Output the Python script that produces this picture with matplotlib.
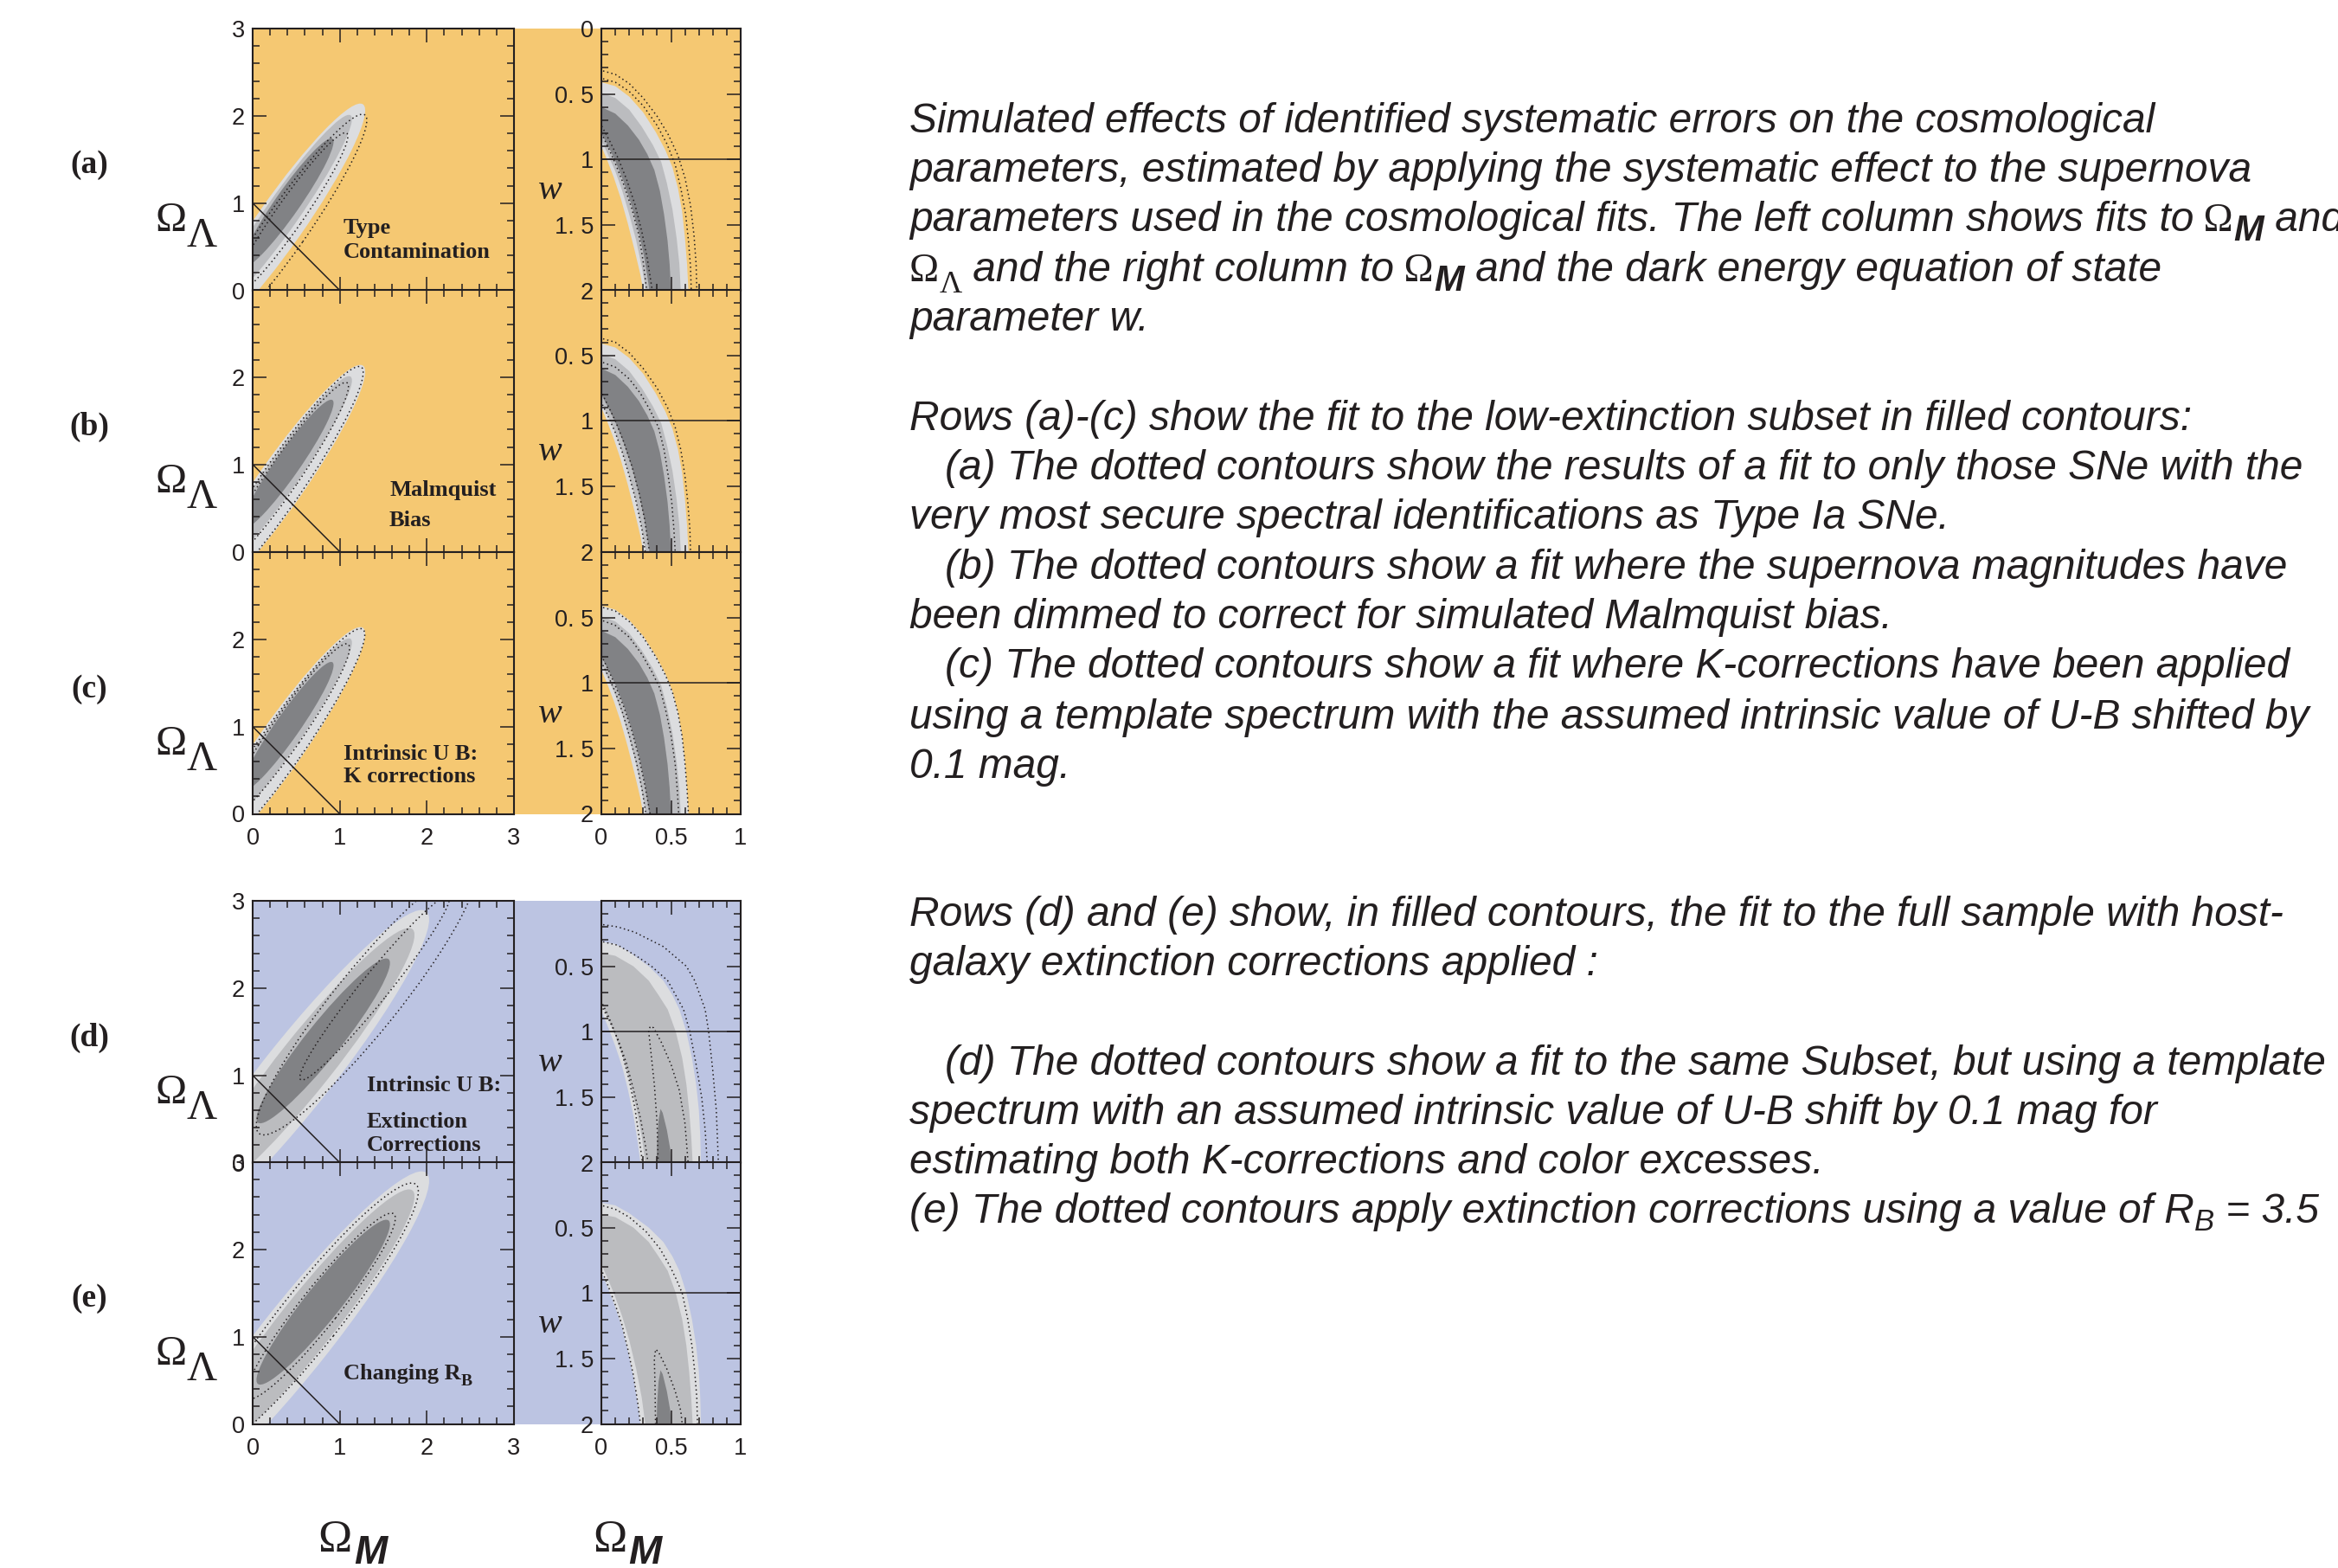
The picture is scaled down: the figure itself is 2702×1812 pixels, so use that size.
import matplotlib
matplotlib.use("Agg")
import matplotlib.pyplot as plt
from matplotlib.patches import Ellipse, Polygon, Rectangle
from matplotlib.ticker import MultipleLocator

W, H = 2702, 1812
plt.rcParams["font.family"] = ["Liberation Sans", "DejaVu Sans"]

INK = "#231F20"
ORANGE = "#F5C872"
BLUE = "#BCC4E2"
SHADES = ["#DCDDDF", "#BBBCBF", "#818285"]   # 95%, 90%, 68% fills

# ---- panel geometry (pixels) ----
LEFT_X = (292, 594)
RIGHT_X = (695, 856)
PANEL_H = 302.5
ROW_TOPS = [33, 335, 638, 1041, 1343]
ROW_TAGS = ["(a)", "(b)", "(c)", "(d)", "(e)"]
ROW_BG = [ORANGE, ORANGE, ORANGE, BLUE, BLUE]

# ---- axis ticks ----
OM_TICKS_LEFT = [0, 1, 2, 3]
OL_TICKS = [0, 1, 2, 3]
OM_TICKS_RIGHT = [0, 0.5, 1]
W_TICKS = [0, 0.5, 1, 1.5, 2]
OL_LABELS = [["0", "1", "2", "3"], ["0", "1", "2", ""], ["0", "1", "2", ""],
             ["0", "1", "2", "3"], ["0", "1", "2", "3"]]
W_LABELS = [["0", "0. 5", "1", "1. 5", "2"]] + [["", "0. 5", "1", "1. 5", "2"]] * 4
SHOW_X_LABELS = [False, False, True, False, True]

# flat universe line and cosmological-constant line
FLAT_OM = [0, 1]
FLAT_OL = [1, 0]
W_LAMBDA = 1.0

# ---- Omega_M / Omega_Lambda confidence regions: (cx, cy, semi-major, semi-minor, angle) ----
LOW_OL_FILLED = [(0.32, 0.78, 1.65, 0.27, 55), (0.35, 0.90, 1.35, 0.19, 55),
                 (0.40, 1.00, 0.90, 0.14, 55)]
FULL_OL_FILLED = [(0.50, 1.00, 2.40, 0.40, 51.5), (0.62, 1.15, 1.95, 0.31, 51.5),
                  (0.81, 1.395, 1.20, 0.20, 51.3)]
DOTTED_OL_A = [(0.37, 0.70, 1.60, 0.25, 55), (0.42, 0.86, 1.15, 0.16, 55)]
DOTTED_OL_B = [(0.33, 0.78, 1.62, 0.245, 55.5), (0.36, 0.88, 1.28, 0.18, 55.5)]
DOTTED_OL_C = [(0.33, 0.78, 1.63, 0.25, 55), (0.38, 0.92, 1.25, 0.185, 55)]
DOTTED_OL_D = [(1.30, 1.85, 1.95, 0.36, 51), (1.40, 2.00, 1.35, 0.16, 51)]
DOTTED_OL_E = [(0.66, 1.22, 1.95, 0.34, 51.5), (0.78, 1.35, 1.35, 0.22, 51.5)]

# ---- Omega_M / w confidence bands: outer and inner edges as (Omega_M, w) ----
LOW_LIGHT_OUT = [(0, 0.41), (0.10, 0.44), (0.20, 0.52), (0.30, 0.64), (0.39, 0.79), (0.46, 0.93),
                 (0.51, 1.06), (0.55, 1.22), (0.58, 1.40), (0.60, 1.60), (0.615, 1.80), (0.625, 2.0)]
LOW_LIGHT_IN = [(0, 0.90), (0.04, 1.00), (0.09, 1.14), (0.14, 1.30), (0.19, 1.49), (0.24, 1.70),
                (0.28, 1.88), (0.30, 2.0)]
LOW_MID_OUT = [(0, 0.49), (0.10, 0.53), (0.20, 0.62), (0.29, 0.75), (0.37, 0.89), (0.43, 1.02),
               (0.47, 1.18), (0.51, 1.38), (0.54, 1.60), (0.56, 1.80), (0.57, 2.0)]
LOW_MID_IN = [(0, 0.85), (0.05, 0.97), (0.10, 1.09), (0.15, 1.24), (0.20, 1.42), (0.25, 1.62),
              (0.29, 1.82), (0.32, 2.0)]
LOW_DARK_OUT = [(0, 0.60), (0.10, 0.65), (0.19, 0.74), (0.27, 0.85), (0.33, 0.96), (0.38, 1.08),
                (0.42, 1.24), (0.45, 1.42), (0.475, 1.62), (0.49, 1.80), (0.50, 2.0)]
LOW_DARK_IN = [(0, 0.80), (0.05, 0.90), (0.10, 1.01), (0.16, 1.17), (0.22, 1.36), (0.27, 1.56),
               (0.31, 1.76), (0.345, 2.0)]

FULL_LIGHT_OUT = [(0, 0.31), (0.10, 0.33), (0.20, 0.39), (0.34, 0.50), (0.445, 0.61), (0.51, 0.72),
                  (0.56, 0.83), (0.61, 1.0), (0.65, 1.2), (0.68, 1.4), (0.70, 1.6), (0.71, 1.8), (0.715, 2.0)]
FULL_LIGHT_IN = [(0, 0.84), (0.05, 0.97), (0.10, 1.11), (0.15, 1.27), (0.19, 1.44), (0.23, 1.64),
                 (0.26, 1.84), (0.28, 2.0)]
FULL_MID_OUT = [(0, 0.40), (0.10, 0.42), (0.23, 0.50), (0.34, 0.61), (0.41, 0.72), (0.476, 0.83),
                (0.534, 1.0), (0.58, 1.2), (0.61, 1.4), (0.63, 1.6), (0.645, 1.8), (0.655, 2.0)]
FULL_MID_IN = [(0, 0.78), (0.05, 0.90), (0.10, 1.03), (0.15, 1.18), (0.20, 1.36), (0.25, 1.58),
               (0.29, 1.80), (0.315, 2.0)]
FULL_DARK = [(0.395, 2.1), (0.40, 1.85), (0.41, 1.68), (0.425, 1.59), (0.44, 1.62), (0.47, 1.75),
             (0.495, 1.9), (0.51, 2.1)]

DOT_A1_OUT = [(0, 0.32), (0.10, 0.35), (0.20, 0.42), (0.30, 0.53), (0.40, 0.67), (0.48, 0.81),
              (0.55, 0.97), (0.60, 1.14), (0.64, 1.35), (0.665, 1.58), (0.68, 1.80), (0.685, 2.0)]
DOT_A1_IN = [(0, 0.80), (0.05, 0.91), (0.10, 1.03), (0.16, 1.19), (0.22, 1.38), (0.27, 1.58),
             (0.30, 1.78), (0.325, 2.0)]
DOT_A2_OUT = [(0, 0.38), (0.10, 0.41), (0.20, 0.48), (0.30, 0.59), (0.40, 0.74), (0.47, 0.88),
              (0.53, 1.04), (0.57, 1.22), (0.605, 1.42), (0.625, 1.62), (0.64, 1.82), (0.645, 2.0)]
DOT_A2_IN = [(0, 0.74), (0.06, 0.86), (0.12, 0.99), (0.18, 1.15), (0.24, 1.34), (0.29, 1.55),
             (0.33, 1.76), (0.365, 2.0)]

DOT_B1_OUT = [(0, 0.37), (0.10, 0.40), (0.20, 0.48), (0.30, 0.60), (0.40, 0.75), (0.48, 0.91),
              (0.53, 1.05), (0.57, 1.22), (0.60, 1.42), (0.62, 1.62), (0.635, 1.82), (0.64, 2.0)]
DOT_B1_IN = [(0, 0.86), (0.05, 0.97), (0.10, 1.09), (0.15, 1.24), (0.20, 1.42), (0.25, 1.62),
             (0.29, 1.82), (0.315, 2.0)]
DOT_B2_OUT = [(0, 0.55), (0.10, 0.59), (0.20, 0.68), (0.28, 0.79), (0.35, 0.92), (0.41, 1.05),
              (0.45, 1.22), (0.48, 1.42), (0.505, 1.62), (0.52, 1.82), (0.53, 2.0)]
DOT_B2_IN = [(0, 0.78), (0.05, 0.89), (0.10, 1.00), (0.16, 1.16), (0.22, 1.35), (0.27, 1.55),
             (0.31, 1.75), (0.345, 2.0)]

DOT_C1_OUT = [(0, 0.42), (0.10, 0.45), (0.20, 0.53), (0.30, 0.65), (0.39, 0.80), (0.46, 0.94),
              (0.51, 1.07), (0.55, 1.23), (0.58, 1.41), (0.60, 1.61), (0.615, 1.81), (0.625, 2.0)]
DOT_C1_IN = [(0, 0.84), (0.05, 0.95), (0.10, 1.07), (0.15, 1.22), (0.20, 1.40), (0.25, 1.60),
             (0.29, 1.80), (0.32, 2.0)]
DOT_C2_OUT = [(0, 0.52), (0.10, 0.56), (0.20, 0.65), (0.29, 0.78), (0.36, 0.91), (0.42, 1.04),
              (0.46, 1.20), (0.50, 1.40), (0.53, 1.62), (0.545, 1.82), (0.555, 2.0)]
DOT_C2_IN = [(0, 0.79), (0.05, 0.90), (0.10, 1.02), (0.16, 1.18), (0.22, 1.37), (0.27, 1.57),
             (0.31, 1.77), (0.35, 2.0)]

DOT_D1_OUT = [(0, 0.18), (0.12, 0.20), (0.24, 0.24), (0.445, 0.35), (0.61, 0.50), (0.67, 0.61),
              (0.745, 0.83), (0.77, 1.0), (0.80, 1.3), (0.825, 1.6), (0.84, 2.0)]
DOT_D1_IN = [(0, 0.77), (0.05, 0.88), (0.10, 1.01), (0.15, 1.17), (0.20, 1.37), (0.24, 1.58),
             (0.27, 1.80), (0.295, 2.0)]
DOT_D2_OUT = [(0, 0.31), (0.12, 0.34), (0.25, 0.42), (0.36, 0.50), (0.476, 0.61), (0.59, 0.83),
              (0.635, 1.0), (0.68, 1.25), (0.72, 1.5), (0.745, 1.75), (0.76, 2.0)]
DOT_D2_IN = [(0, 0.80), (0.06, 0.92), (0.12, 1.06), (0.18, 1.24), (0.23, 1.44), (0.28, 1.66),
             (0.315, 1.86), (0.335, 2.0)]
DOT_D3 = [(0.41, 2.1), (0.40, 1.7), (0.38, 1.4), (0.355, 1.15), (0.34, 1.0), (0.35, 0.96),
          (0.375, 0.97), (0.43, 1.08), (0.50, 1.25), (0.56, 1.45), (0.60, 1.7), (0.63, 2.1)]

DOT_E1_OUT = [(0, 0.33), (0.10, 0.36), (0.20, 0.42), (0.32, 0.53), (0.42, 0.66), (0.49, 0.79),
              (0.54, 0.90), (0.58, 1.0), (0.62, 1.2), (0.65, 1.4), (0.67, 1.6), (0.685, 1.8), (0.69, 2.0)]
DOT_E1_IN = [(0, 0.82), (0.05, 0.95), (0.10, 1.09), (0.15, 1.25), (0.19, 1.43), (0.23, 1.63),
             (0.26, 1.83), (0.28, 2.0)]
DOT_E2 = [(0.39, 2.1), (0.385, 1.7), (0.38, 1.5), (0.39, 1.43), (0.41, 1.45), (0.47, 1.58),
          (0.53, 1.75), (0.57, 1.9), (0.59, 2.1)]

# ---- in-panel captions: (text, Omega_M, Omega_Lambda) ----
TAG_A = [("Type", 1.04, 0.71), ("Contamination", 1.04, 0.44)]
TAG_B = [("Malmquist", 1.57, 0.70), ("Bias", 1.57, 0.36)]
TAG_C = [("Intrinsic U B:", 1.04, 0.68), ("K corrections", 1.04, 0.43)]
TAG_D = [("Intrinsic U B:", 1.31, 0.88), ("Extinction", 1.31, 0.47), ("Corrections", 1.31, 0.20)]
TAG_E = [("Changing R", 1.04, 0.575)]

# ---- caption text at the right: (x, baseline y, runs) ----
CAPTION = [
    (1051, 153, [("Simulated effects of identified systematic errors on the cosmological", "body", 0)]),
    (1051, 210, [("parameters, estimated by applying the systematic effect to the supernova", "body", 0)]),
    (1051, 267, [("parameters used in the cosmological fits. The left column shows fits to", "body", 0),
                 (" Ω", "omega", 0), ("M", "subm", 11), (" and", "body", 0)]),
    (1051, 325, [("Ω", "omega", 0), ("Λ", "subl", 13), (" and the right column to", "body", 0),
                 (" Ω", "omega", 0), ("M", "subm", 11),
                 (" and the dark energy equation of state", "body", 0)]),
    (1051, 382, [("parameter w.", "body", 0)]),
    (1051, 497, [("Rows (a)-(c) show the fit to the low-extinction subset in filled contours:", "body", 0)]),
    (1092, 554, [("(a) The dotted contours show the results of a fit to only those SNe with the", "body", 0)]),
    (1051, 611, [("very most secure spectral identifications as Type Ia SNe.", "body", 0)]),
    (1092, 669, [("(b) The dotted contours show a fit where the supernova magnitudes have", "body", 0)]),
    (1051, 726, [("been dimmed to correct for simulated Malmquist bias.", "body", 0)]),
    (1092, 783, [("(c) The dotted contours show a fit where K-corrections have been applied", "body", 0)]),
    (1051, 842, [("using a template spectrum with the assumed intrinsic value of U-B shifted by", "body", 0)]),
    (1051, 899, [("0.1 mag.", "body", 0)]),
    (1051, 1070, [("Rows (d) and (e) show, in filled contours, the fit to the full sample with host-", "body", 0)]),
    (1051, 1127, [("galaxy extinction corrections applied :", "body", 0)]),
    (1092, 1242, [("(d) The dotted contours show a fit to the same Subset, but using a template", "body", 0)]),
    (1051, 1299, [("spectrum with an assumed intrinsic value of U-B shift by 0.1 mag for", "body", 0)]),
    (1051, 1356, [("estimating both K-corrections and color excesses.", "body", 0)]),
    (1051, 1413, [("(e) The dotted contours apply extinction corrections using a value of R", "body", 0),
                  ("B", "subb", 9), (" = 3.5", "body", 0)]),
]

STYLES = {
    "body": dict(family="Liberation Sans", style="italic", size=34.5, color=INK),
    "omega": dict(family="Liberation Serif", size=33, color=INK),
    "subm": dict(family="Liberation Sans", style="italic", weight="bold", size=30, color=INK),
    "subl": dict(family="Liberation Serif", size=26, color=INK),
    "subb": dict(family="Liberation Sans", style="italic", size=25, color=INK),
}

DOT_LS = (0, (1, 2.2))


def px_axes(fig, x0, x1, top):
    return fig.add_axes([x0 / W, 1 - (top + PANEL_H) / H, (x1 - x0) / W, PANEL_H / H])


def style_ticks(ax):
    ax.tick_params(which="both", direction="in", top=True, right=True, color=INK, width=1.1)
    ax.tick_params(which="major", length=11.5)
    ax.tick_params(which="minor", length=5.8)
    ax.tick_params(axis="y", pad=6.5, labelsize=19.5, labelcolor=INK)
    ax.tick_params(axis="x", pad=11, labelsize=19.5, labelcolor=INK)
    for s in ax.spines.values():
        s.set_linewidth(1.5)
        s.set_color(INK)


def band(outer, inner):
    # close a band that runs from the Omega_M = 0 edge down to the w = 2 edge
    return ([(-0.2, outer[0][1])] + list(outer) + [(outer[-1][0], 2.3), (inner[-1][0], 2.3)]
            + list(inner[::-1]) + [(-0.2, inner[0][1])])


fig = plt.figure(figsize=(W / 100, H / 100), dpi=100)

# coloured backing behind each block of panels
for top, bottom, bg in [(ROW_TOPS[0], ROW_TOPS[2] + PANEL_H, ORANGE),
                        (ROW_TOPS[3], ROW_TOPS[4] + PANEL_H, BLUE)]:
    fig.patches.append(Rectangle((LEFT_X[0] / W, 1 - bottom / H), (RIGHT_X[1] - LEFT_X[0]) / W,
                                 (bottom - top) / H, transform=fig.transFigure,
                                 facecolor=bg, edgecolor="none", zorder=-1))

left_filled = [LOW_OL_FILLED] * 3 + [FULL_OL_FILLED] * 2
left_dotted = [DOTTED_OL_A, DOTTED_OL_B, DOTTED_OL_C, DOTTED_OL_D, DOTTED_OL_E]
tags = [TAG_A, TAG_B, TAG_C, TAG_D, TAG_E]

low_bands = [band(LOW_LIGHT_OUT, LOW_LIGHT_IN), band(LOW_MID_OUT, LOW_MID_IN),
             band(LOW_DARK_OUT, LOW_DARK_IN)]
full_bands = [band(FULL_LIGHT_OUT, FULL_LIGHT_IN), band(FULL_MID_OUT, FULL_MID_IN), FULL_DARK]
right_filled = [low_bands] * 3 + [full_bands] * 2
right_dotted = [
    [band(DOT_A1_OUT, DOT_A1_IN), band(DOT_A2_OUT, DOT_A2_IN)],
    [band(DOT_B1_OUT, DOT_B1_IN), band(DOT_B2_OUT, DOT_B2_IN)],
    [band(DOT_C1_OUT, DOT_C1_IN), band(DOT_C2_OUT, DOT_C2_IN)],
    [band(DOT_D1_OUT, DOT_D1_IN), band(DOT_D2_OUT, DOT_D2_IN), DOT_D3],
    [band(DOT_E1_OUT, DOT_E1_IN), DOT_E2],
]

renderer = fig.canvas.get_renderer()

for i, top in enumerate(ROW_TOPS):
    bg = ROW_BG[i]

    # --- Omega_M vs Omega_Lambda ---
    ax = px_axes(fig, LEFT_X[0], LEFT_X[1], top)
    ax.set_facecolor(bg)
    ax.set_xlim(0, 3)
    ax.set_ylim(0, 3)
    for (cx, cy, a, b, ang), col in zip(left_filled[i], SHADES):
        ax.add_patch(Ellipse((cx, cy), 2 * a, 2 * b, angle=ang, facecolor=col, edgecolor="none"))
    for cx, cy, a, b, ang in left_dotted[i]:
        ax.add_patch(Ellipse((cx, cy), 2 * a, 2 * b, angle=ang, fill=False, edgecolor=INK,
                             linewidth=1.1, linestyle=DOT_LS))
    ax.plot(FLAT_OM, FLAT_OL, color=INK, linewidth=1.1)
    ax.set_xticks(OM_TICKS_LEFT, [str(t) for t in OM_TICKS_LEFT] if SHOW_X_LABELS[i] else [""] * 4)
    ax.set_yticks(OL_TICKS, OL_LABELS[i])
    ax.xaxis.set_minor_locator(MultipleLocator(0.2))
    ax.yaxis.set_minor_locator(MultipleLocator(0.2))
    style_ticks(ax)
    for text, x, y in tags[i]:
        t = ax.text(x, y, text, family="Liberation Serif", weight="bold", size=19, color=INK,
                    ha="left", va="center")
    if i == 4:
        # subscript B after "Changing R"
        bb = t.get_window_extent(renderer)
        fig.text(bb.x1 / W, (bb.y0 + 3) / H, "B", family="Liberation Serif", weight="bold",
                 size=14, color=INK, ha="left", va="center")

    # --- Omega_M vs w ---
    axr = px_axes(fig, RIGHT_X[0], RIGHT_X[1], top)
    axr.set_facecolor(bg)
    axr.set_xlim(0, 1)
    axr.set_ylim(2, 0)
    for verts, col in zip(right_filled[i], SHADES):
        axr.add_patch(Polygon(verts, closed=True, facecolor=col, edgecolor="none"))
    for verts in right_dotted[i]:
        axr.add_patch(Polygon(verts, closed=True, fill=False, edgecolor=INK, linewidth=1.1,
                              linestyle=DOT_LS))
    axr.axhline(W_LAMBDA, color=INK, linewidth=1.1)
    axr.set_xticks(OM_TICKS_RIGHT, ["0", "0.5", "1"] if SHOW_X_LABELS[i] else [""] * 3)
    axr.set_yticks(W_TICKS, W_LABELS[i])
    axr.xaxis.set_minor_locator(MultipleLocator(0.1))
    axr.yaxis.set_minor_locator(MultipleLocator(0.1))
    style_ticks(axr)

    # row labels and axis symbols
    fig.text(103 / W, 1 - (top + 158) / H, ROW_TAGS[i], family="Liberation Serif",
             weight="bold", size=27, color=INK, ha="center", va="center")
    fig.text(198 / W, 1 - (top + 222) / H, "Ω", family="Liberation Serif", size=35,
             color=INK, ha="center", va="center")
    fig.text(233 / W, 1 - (top + 240) / H, "Λ", family="Liberation Serif", size=35,
             color=INK, ha="center", va="center")
    fig.text(636 / W, 1 - (top + 187) / H, "w", family="Liberation Serif", style="italic",
             size=30, color=INK, ha="center", va="center")

# Omega_M labels under both columns
for ox, mx in [(387, 428), (705, 745)]:
    fig.text(ox / W, 1 - 1780 / H, "Ω", family="Liberation Serif", size=38, color=INK,
             ha="center", va="center")
    fig.text(mx / W, 1 - 1795 / H, "M", family="Liberation Sans", style="italic",
             weight="bold", size=33, color=INK, ha="center", va="center")

# caption block, drawn run by run so the symbols sit inline
for x, y, runs in CAPTION:
    for text, key, dy in runs:
        t = fig.text(x / W, 1 - (y + dy) / H, text, ha="left", va="baseline", **STYLES[key])
        x += t.get_window_extent(renderer).width

fig.savefig("out.png", dpi=100)
